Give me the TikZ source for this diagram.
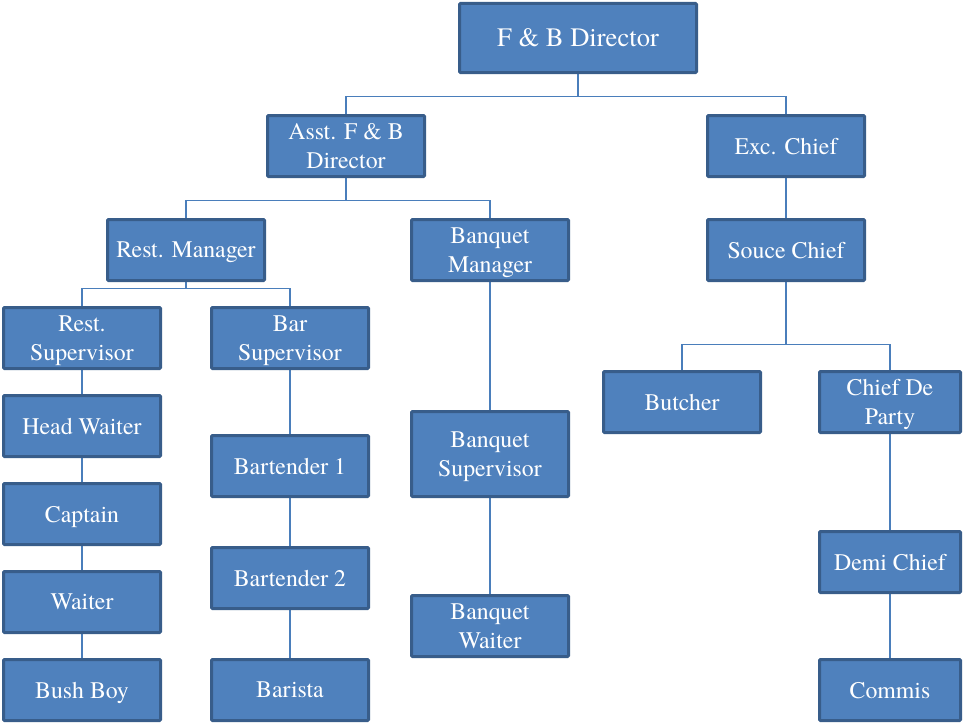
\documentclass[tikz,border=0pt]{standalone}
\usepackage{fontspec}
\newfontfamily\tnr{texgyretermes-regular.otf}
\usetikzlibrary{backgrounds}
\definecolor{boxfill}{HTML}{4F81BD}
\definecolor{boxline}{HTML}{385D8A}
\definecolor{conn}{HTML}{4A7EBB}
\tikzset{
  orgbox/.style={draw=boxline, fill=boxfill, line width=3pt, rounded corners=1pt,
    text=white, align=center, minimum width=157pt, minimum height=61pt,
    inner sep=1pt, outer sep=0pt, text depth=0pt,
    font=\tnr\fontsize{23.8}{28.7}\selectfont},
  bigbox/.style={orgbox, minimum width=237pt, minimum height=69pt,
    font=\tnr\fontsize{26.6}{31}\selectfont},
  narrowbox/.style={orgbox, minimum width=141pt},
  tallbox/.style={orgbox, minimum height=85pt},
  link/.style={draw=conn, line width=1.3pt}
}
\begin{document}
\begin{tikzpicture}[x=1pt,y=-1pt]
\useasboundingbox (0,0) rectangle (968,725);
\node[bigbox] (dir) at (578,38) {F \& B Director};
\node[orgbox] (asst) at (346,146) {Asst. F \& B\\Director};
\node[orgbox] (exc) at (786,146) {Exc. Chief};
\node[orgbox] (rman) at (186,250) {Rest. Manager};
\node[orgbox] (bman) at (490,250) {Banquet\\Manager};
\node[orgbox] (souce) at (786,250) {Souce Chief};
\node[orgbox] (rsup) at (82,338) {Rest.\\Supervisor};
\node[orgbox] (bsup) at (290,338) {Bar\\Supervisor};
\node[orgbox] (head) at (82,426) {Head Waiter};
\node[orgbox] (capt) at (82,514) {Captain};
\node[orgbox] (wait) at (82,602) {Waiter};
\node[orgbox] (bush) at (82,690) {Bush Boy};
\node[orgbox] (bt1) at (290,466) {Bartender 1};
\node[orgbox] (bt2) at (290,578) {Bartender 2};
\node[orgbox] (bari) at (290,690) {Barista};
\node[tallbox] (bqsup) at (490,454) {Banquet\\Supervisor};
\node[orgbox] (bqw) at (490,626) {Banquet\\Waiter};
\node[orgbox] (butch) at (682,402) {Butcher};
\node[narrowbox] (cdp) at (890,402) {Chief De\\Party};
\node[narrowbox] (demi) at (890,562) {Demi Chief};
\node[narrowbox] (commis) at (890,690) {Commis};
\begin{scope}[on background layer]
\draw[link] (dir.south) -- ++(0,24) -| (asst.north);
\draw[link] (dir.south) -- ++(0,24) -| (exc.north);
\draw[link] (asst.south) -- ++(0,24) -| (rman.north);
\draw[link] (asst.south) -- ++(0,24) -| (bman.north);
\draw[link] (rman.south) -- ++(0,8) -| (rsup.north);
\draw[link] (rman.south) -- ++(0,8) -| (bsup.north);
\draw[link] (exc.south) -- (souce.north);
\draw[link] (souce.south) -- ++(0,64) -| (butch.north);
\draw[link] (souce.south) -- ++(0,64) -| (cdp.north);
\draw[link] (bman.south) -- (bqsup.north);
\draw[link] (bqsup.south) -- (bqw.north);
\draw[link] (rsup.south) -- (head.north);
\draw[link] (head.south) -- (capt.north);
\draw[link] (capt.south) -- (wait.north);
\draw[link] (wait.south) -- (bush.north);
\draw[link] (bsup.south) -- (bt1.north);
\draw[link] (bt1.south) -- (bt2.north);
\draw[link] (bt2.south) -- (bari.north);
\draw[link] (cdp.south) -- (demi.north);
\draw[link] (demi.south) -- (commis.north);
\end{scope}
\end{tikzpicture}
\end{document}
